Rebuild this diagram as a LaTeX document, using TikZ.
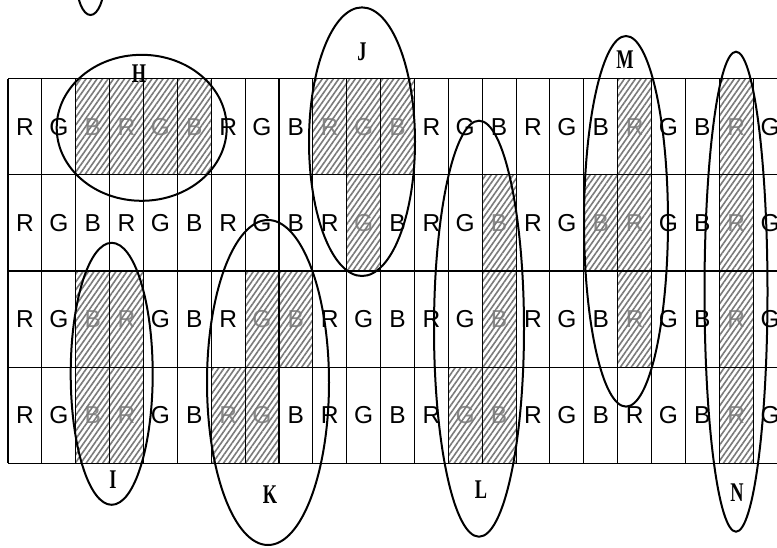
\documentclass[tikz,border=0pt]{standalone}
\usepackage{fontspec}
\setmainfont{Liberation Serif}
\newfontfamily\gridfont{Liberation Sans}
\usetikzlibrary{patterns.meta}
\newcommand\gcw{33.87}
\newcommand\grh{96.17}
\newcommand\ggx{8}
\newcommand\ggy{78.7}
\begin{document}
\begin{tikzpicture}[x=1pt,y=-1pt,
  cellletter/.style={font=\gridfont\fontsize{24.5}{24.5}\selectfont, inner sep=0pt},
  hatchcell/.style={pattern={Lines[angle=55,distance=4.5pt,line width=1.6pt]}, pattern color=black!52},
  gridline/.style={line width=1.1pt},
  loopline/.style={line width=2pt},
  tag/.style={font=\bfseries\fontsize{27}{27}\selectfont, inner sep=0pt, xscale=0.68, transform shape}]
\useasboundingbox (0,0) rectangle (777,547);
% letters
\foreach \r in {0,...,3}{
  \foreach \c in {0,...,22}{
    \pgfmathtruncatemacro\m{mod(\c,3)}
    \node[cellletter] (l-\c-\r) at ({\ggx+(\c+0.5)*\gcw},{\ggy+(\r+0.5)*\grh}) {\ifcase\m R\or G\or B\fi};
  }
}
% hatched cells
\foreach \c/\r in {2/0,3/0,4/0,5/0,9/0,10/0,11/0,18/0,21/0,
                   10/1,14/1,17/1,18/1,21/1,
                   2/2,3/2,7/2,8/2,14/2,18/2,21/2,
                   2/3,3/3,6/3,7/3,13/3,14/3,21/3}{
  \pgfmathtruncatemacro\m{mod(\c,3)}
  \fill[white] ({\ggx+\c*\gcw},{\ggy+\r*\grh}) rectangle ++(\gcw,\grh);
  \node[cellletter,text=black!45] at ({\ggx+(\c+0.5)*\gcw},{\ggy+(\r+0.5)*\grh}) {\ifcase\m R\or G\or B\fi};
  \fill[hatchcell] ({\ggx+\c*\gcw},{\ggy+\r*\grh}) rectangle ++(\gcw,\grh);
}
% grid
\foreach \r in {0,...,4}
  \draw[gridline] (\ggx,{\ggy+\r*\grh}) -- (777,{\ggy+\r*\grh});
\foreach \c in {0,...,22}
  \draw[gridline] ({\ggx+\c*\gcw},\ggy) -- ({\ggx+\c*\gcw},{\ggy+4*\grh});
% loops
\draw[loopline] (90.5,-20) ellipse [x radius=14, y radius=35];
\draw[loopline] (141.7,127.8) ellipse [x radius=85, y radius=73];
\draw[loopline] (362,141.7) ellipse [x radius=53, y radius=134.3];
\draw[loopline] (111.7,373.8) ellipse [x radius=41, y radius=131];
\draw[loopline] (268,382.5) ellipse [x radius=61, y radius=162.5];
\draw[loopline] (479,328.7) ellipse [x radius=45, y radius=208];
\draw[loopline] (626,221.3) ellipse [x radius=42, y radius=185.3];
\draw[loopline] (736,291.7) ellipse [x radius=31.5, y radius=240];
% labels
\node[tag] (H) at (139,74) {H};
\node[tag] (J) at (362,52) {J};
\node[tag] (M) at (625,60) {M};
\node[tag] (I) at (113,480) {I};
\node[tag] (K) at (270,495) {K};
\node[tag] (L) at (481,490) {L};
\node[tag] (N) at (737,493) {N};
\end{tikzpicture}
\end{document}
